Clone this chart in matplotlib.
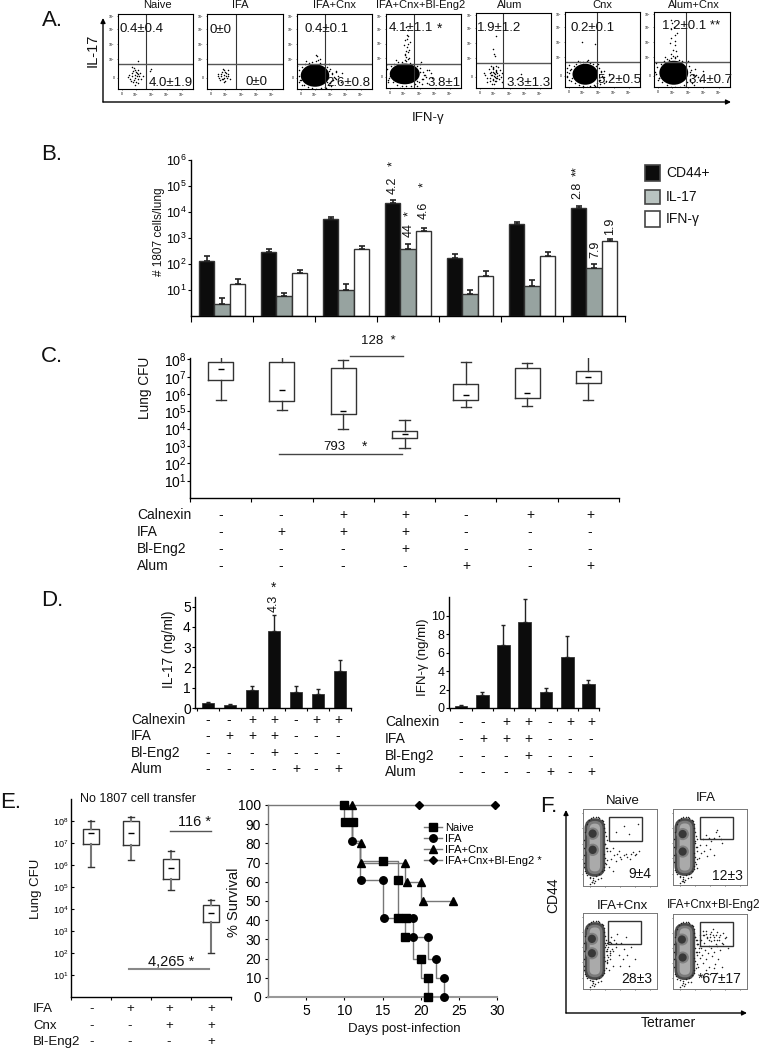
import matplotlib
matplotlib.use('Agg')
import matplotlib.pyplot as plt
from matplotlib.patches import Ellipse, Rectangle, FancyBboxPatch
from matplotlib.lines import Line2D

plt.rcParams['font.family'] = ['Liberation Sans', 'DejaVu Sans']
plt.rcParams['mathtext.fontset'] = 'custom'
plt.rcParams['mathtext.rm'] = 'Liberation Sans'

W, H = 764, 1050
fig = plt.figure(figsize=(W / 100, H / 100), dpi=100)
# overlay in picture pixels, holds the free text and the arrows
bg = fig.add_axes([0, 0, 1, 1])
bg.set_xlim(0, W)
bg.set_ylim(H, 0)
bg.axis('off')
bg.set_zorder(10)

# ---------- data ----------
# panel A, flow plots. dots are read off the picture as fractions of each box
a_names = ['Naive', 'IFA', 'IFA+Cnx', 'IFA+Cnx+Bl-Eng2', 'Alum', 'Cnx', 'Alum+Cnx']
a_boxes = [(118, 14, 193, 89), (207, 14, 283, 89), (297, 14, 372, 89), (386, 14, 461, 88),
           (476, 13, 551, 88), (565, 12, 640, 87), (654, 12, 730, 87)]
a_vline = [0.37, 0.375, 0.375, 0.375, 0.36, 0.425, 0.425]
a_hline = [0.33, 0.33, 0.33, 0.33, 0.34, 0.34, 0.34]
a_upper = ['0.4±0.4', '0±0', '0.4±0.1', '4.1±1.1', '1.9±1.2', '0.2±0.1', '1.2±0.1 **']
a_lower = ['4.0±1.9', '0±0', '2.6±0.8', '3.8±1', '3.3±1.3', '5.2±0.5', '3.4±0.7']
a_blob = [None, None, (0.24, 0.18, 0.38, 0.3), (0.25, 0.19, 0.4, 0.28), None,
          (0.27, 0.17, 0.34, 0.28), (0.26, 0.19, 0.38, 0.32)]
# scatter just outside a dense cloud, as multiples of the cloud's half size
halo_x = [-1.3, -1.15, -1.05, -0.9, -0.7, -0.45, -0.2, 0.1, 0.35, 0.6, 0.85, 1.05, 1.2, 1.3, 1.15, 0.95, 0.7, 0.4, 0.1, -0.2, -0.5, -0.8, -1.1, -1.4, 1.5, 1.45, 0.8, -0.6, -1.25, 1.0, 0.2, -0.3]
halo_y = [0.1, 0.5, -0.4, 0.75, 1.0, 1.15, 1.2, 1.25, 1.1, 1.0, 0.8, 0.55, 0.2, -0.15, -0.5, -0.8, -1.0, -1.15, -1.2, -1.15, -1.05, -0.8, -0.6, -0.2, 0.35, -0.3, -1.15, 1.3, 0.85, 1.0, 1.4, -1.35]
a_dots_x = [
    [.13, .16, .18, .2, .21, .22, .23, .24, .25, .26, .27, .28, .19, .17, .23, .21, .25, .27, .3, .15, .22, .24, .29, .26, .2, .42, .44, .27, .18, .33],
    [.14, .16, .18, .2, .21, .22, .23, .24, .25, .26, .27, .19, .17, .23, .21, .25, .28, .3, .15, .22, .24, .2, .27],
    [.02, .05, .46, .5, .44, .55, .48, .42, .6, .27, .25, .3, .52, .07, .58, .45, .4],
    [.25, .27, .28, .3, .26, .29, .31, .27, .24, .28, .3, .26, .32, .29, .27, .25, .31, .28, .45, .5, .52, .55, .58, .48, .62, .05, .03, .07, .6, .42, .47],
    [.1, .14, .17, .2, .22, .23, .24, .25, .26, .27, .28, .3, .32, .19, .18, .21, .23, .25, .27, .29, .24, .22, .26, .28, .2, .3, .33, .15, .12, .35, .55, .6, .27, .24, .35, .23, .25, .21, .24, .26, .28, .22, .25, .23, .27, .19, .2],
    [.02, .03, .03, .05, .06, .5, .54, .58, .48, .52, .62, .45, .22, .4, .46],
    [.02, .06, .2, .22, .25, .27, .28, .22, .3, .23, .26, .29, .24, .27, .21, .25, .48, .5, .55, .6, .64, .58, .52, .47, .28, .23],
]
a_dots_y = [
    [.16, .14, .21, .24, .12, .19, .25, .1, .22, .14, .2, .17, .17, .11, .15, .28, .18, .08, .13, .19, .06, .23, .21, .25, .09, .24, .27, .38, .3, .17],
    [.18, .15, .2, .23, .13, .19, .25, .11, .21, .15, .2, .17, .12, .15, .27, .18, .17, .14, .2, .1, .23, .14, .26],
    [.18, .12, .2, .15, .08, .18, .12, .24, .22, .44, .46, .4, .24, .05, .09, .04, .1],
    [.46, .5, .55, .6, .65, .7, .52, .42, .58, .72, .48, .44, .62, .78, .82, .38, .4, .66, .22, .12, .18, .07, .25, .05, .13, .16, .08, .23, .2, .1, .35],
    [.2, .13, .25, .18, .11, .28, .06, .15, .3, .22, .13, .18, .24, .2, .09, .05, .26, .19, .09, .28, .16, .12, .14, .2, .3, .12, .15, .08, .17, .2, .12, .19, .7, .46, .08, .52, .43, .17, .2, .23, .16, .22, .1, .27, .24, .14, .21],
    [.2, .13, .26, .09, .23, .14, .08, .17, .21, .05, .12, .1, .6, .58, .04],
    [.18, .12, .36, .44, .5, .56, .62, .66, .72, .78, .8, .48, .85, .4, .59, .42, .1, .05, .16, .08, .22, .14, .03, .2, .7, .9],
]

# panel B
b_cd44 = [130, 280, 5200, 22000, 165, 3400, 14700]
b_cd44_top = [209, 365, 6200, 29000, 235, 4000, 17000]
b_il17 = [2, 4.9, 8.6, 390, 5.9, 13, 70]
b_il17_top = [4, 7, 16, 570, 9, 23.5, 103]
b_ifn = [16, 45, 390, 1800, 33, 205, 750]
b_ifn_top = [26, 60, 500, 2500, 52, 280, 940]

# panel C boxes: whisker high, box top, median, box low, whisker low
c_hi = [1.5e8, 1.7e8, 8.7e7, 3.3e4, 7e7, 6.5e7, 1.7e8]
c_q3 = [7e7, 7e7, 3.2e7, 7e3, 3.6e6, 3.2e7, 2e7]
c_med = [2.8e7, 1.7e6, 1.05e5, 4.7e3, 8.3e5, 1.15e6, 1e7]
c_q1 = [6.8e6, 3.8e5, 6.8e4, 2.8e3, 4.3e5, 5.9e5, 4.3e6]
c_lo = [4.3e5, 1.2e5, 1e4, 7.6e2, 1.7e5, 2e5, 4.3e5]
calnexin = ['-', '-', '+', '+', '-', '+', '+']
ifa = ['-', '+', '+', '+', '-', '-', '-']
bl_eng2 = ['-', '-', '-', '+', '-', '-', '-']
alum = ['-', '-', '-', '-', '+', '-', '+']

# panel D
d_il17 = [0.25, 0.16, 0.89, 3.8, 0.77, 0.7, 1.84]
d_il17_top = [0.3, 0.2, 1.07, 4.6, 1.08, 0.93, 2.35]
d_ifn = [0.25, 1.4, 6.8, 9.3, 1.7, 5.5, 2.6]
d_ifn_top = [0.36, 1.77, 9, 11.8, 2.17, 7.76, 3.07]

# panel E boxes
e_hi = [1e8, 1.6e8, 4.5e6, 2.5e4]
e_q3 = [4.4e7, 1e8, 1.9e6, 1.6e4]
e_med = [3e7, 3e7, 7.6e5, 6.6e3]
e_q1 = [8.9e6, 8.3e6, 2.3e5, 2.6e3]
e_lo = [8e5, 1.7e6, 7.6e4, 1e2]
e_ifa = ['-', '+', '+', '+']
e_cnx = ['-', '-', '+', '+']
e_bl = ['-', '-', '-', '+']

# survival curves
naive_x = [10, 10, 11, 11, 12, 12, 15, 17, 17, 18, 18, 19, 19, 20, 20, 21, 21]
naive_y = [100, 91, 91, 81, 81, 71, 71, 71, 41, 41, 31, 31, 20, 20, 10, 10, 0]
naive_mx = [10, 10.1, 11.1, 15, 17, 17, 18.1, 18, 20, 21, 21]
naive_my = [100, 91, 91, 71, 61, 41, 41, 31, 20, 10, 0]
ifa_x = [11, 11, 12, 12, 15, 15, 19, 19, 21, 21, 22, 22, 23, 23]
ifa_y = [100, 81, 81, 61, 61, 41, 41, 31, 31, 20, 20, 10, 10, 0]
ifa_mx = [11, 12.2, 15, 15.2, 19, 19, 21, 22, 23, 23]
ifa_my = [81, 61, 61, 41, 41, 31, 31, 20, 10, 0]
cnx_x = [11, 11, 12, 12, 18, 18, 20, 20, 24]
cnx_y = [100, 80, 80, 70, 70, 60, 60, 50, 50]
cnx_mx = [11, 12.2, 12.2, 18, 18.2, 20.1, 20.3, 24.2]
cnx_my = [100, 80, 70, 70, 60, 60, 50, 50]
bl_x = [0, 30]
bl_y = [100, 100]
bl_mx = [19.8, 29.8]
bl_my = [100, 100]

# panel F
f_names = ['Naive', 'IFA', 'IFA+Cnx', 'IFA+Cnx+Bl-Eng2']
f_boxes = [(583, 809, 657, 886), (673, 809, 747, 885), (583, 913, 657, 989), (673, 914, 747, 989)]
f_gates = [(0.35, 0.59, 0.45, 0.31), (0.36, 0.6, 0.45, 0.3), (0.34, 0.59, 0.44, 0.31), (0.36, 0.58, 0.45, 0.32)]
f_values = ['9±4', '12±3', '28±3', '*67±17']
f_dark = [[(.13, .68), (.13, .47)], [(.13, .67), (.13, .44)], [(.12, .66), (.12, .47)], [(.12, .66), (.13, .42)]]
# dots hugging the main population, shared by the four plots
f_edge_x = [.29, .3, .31, .32, .3, .31, .33, .29, .3, .32, .31, .28, .29, .27, .25, .22, .2, .17, .14, .11, .08, .05, .03, .02, .01, .02, .01, .03, .04, .06, .1, .14, .18, .22, .26, .28, .16, .12, .2, .09, .15, .13, .24]
f_edge_y = [.75, .7, .65, .6, .55, .5, .45, .42, .37, .34, .28, .25, .8, .84, .86, .88, .89, .9, .89, .88, .86, .8, .7, .6, .5, .4, .3, .2, .17, .14, .12, .11, .13, .15, .19, .21, .07, .05, .09, .03, .04, .08, .1]
f_dots_x = [
    [.3, .33, .36, .4, .42, .46, .5, .55, .6, .65, .7, .75, .38, .44, .48, .52, .58, .64, .68, .72, .45, .55, .62, .74, .3, .35, .4, .1, .12, .02],
    [.3, .33, .36, .4, .44, .48, .52, .58, .62, .66, .6, .55, .42, .46, .5, .38, .35, .3, .55, .65, .45, .32, .1, .14],
    [.3, .32, .34, .36, .38, .4, .42, .45, .48, .52, .55, .6, .65, .7, .33, .37, .41, .44, .5, .58, .35, .39, .46, .54, .36, .62, .12, .02, .31, .33, .35, .37, .34, .38, .32, .36],
    [.3, .33, .36, .38, .4, .42, .44, .46, .48, .5, .52, .54, .56, .58, .6, .62, .64, .66, .68, .7, .72, .35, .39, .43, .47, .51, .55, .59, .63, .67, .37, .41, .45, .49, .53, .57, .61, .34, .44, .5, .56, .6, .66, .4, .74, .32, .34, .36, .38, .33, .35, .37, .4, .42, .44, .46, .48, .5, .52, .54, .56, .58, .6, .62],
]
f_dots_y = [
    [.55, .5, .45, .5, .4, .42, .38, .4, .38, .42, .4, .45, .35, .33, .45, .35, .42, .35, .44, .42, .7, .78, .68, .8, .3, .25, .2, .1, .05, .25],
    [.58, .5, .52, .6, .66, .62, .58, .7, .64, .55, .72, .62, .45, .38, .48, .42, .35, .3, .4, .6, .52, .22, .1, .05],
    [.6, .5, .55, .45, .6, .5, .65, .55, .45, .6, .52, .45, .55, .4, .35, .4, .3, .6, .3, .68, .25, .52, .72, .4, .62, .3, .1, .25, .58, .52, .62, .5, .42, .68, .38, .48],
    [.7, .6, .65, .55, .72, .62, .78, .68, .58, .74, .64, .8, .7, .6, .76, .66, .72, .62, .75, .68, .7, .5, .45, .52, .48, .55, .5, .58, .52, .6, .42, .35, .4, .3, .44, .34, .4, .3, .25, .2, .28, .22, .3, .18, .55, .66, .6, .72, .66, .5, .55, .58, .78, .72, .74, .7, .66, .7, .76, .72, .66, .72, .66, .7],
]


def pax(x0, y0, x1, y1):
    return fig.add_axes([x0 / W, 1 - y1 / H, (x1 - x0) / W, (y1 - y0) / H])


def txt(x, y, s, size=10, ha='center', rot=0, **kw):
    bg.text(x, y, s, fontsize=size, ha=ha, va='center', rotation=rot, color='#111111', **kw)


def arrow(x0, y0, x1, y1):
    bg.annotate('', xy=(x1, y1), xytext=(x0, y0),
                arrowprops=dict(arrowstyle='-|>', color='k', lw=1, mutation_scale=7, shrinkA=0, shrinkB=0))


def signs(labels, rows, xs, ys, label_x, size=10):
    for lab, row, y in zip(labels, rows, ys):
        txt(label_x, y, lab, size, ha='left')
        for s, x in zip(row, xs):
            txt(x, y, s, size)


def exp_labels(ax, exps, size):
    ax.set_yticks([10.0 ** e for e in exps])
    ax.set_yticklabels(['$\\mathregular{10^{%d}}$' % e for e in exps], fontsize=size)
    ax.minorticks_off()


def clean(ax, lw=1):
    ax.spines['top'].set_visible(False)
    ax.spines['right'].set_visible(False)
    ax.spines['left'].set_linewidth(lw)
    ax.spines['bottom'].set_linewidth(lw)
    ax.patch.set_alpha(0)


def boxes(ax, hi, q3, med, q1, lo, width, wcolor='#333333', wlw=1):
    stats = [dict(whishi=a, q3=b, med=c, q1=d, whislo=e, fliers=[]) for a, b, c, d, e in zip(hi, q3, med, q1, lo)]
    xs = [i + 0.5 for i in range(len(hi))]
    ax.bxp(stats, positions=xs, widths=width, showfliers=False, manage_ticks=False,
           boxprops=dict(color='#333333', lw=1), whiskerprops=dict(color=wcolor, lw=wlw),
           capprops=dict(color='#333333', lw=1), medianprops=dict(alpha=0), capwidths=width * 0.4)
    ax.plot(xs, med, ls='none', marker='_', color='k', ms=5, mew=1)


# ---------- A ----------
txt(52, 21, 'A.', 16)
for i, name in enumerate(a_names):
    x0, y0, x1, y1 = a_boxes[i]
    ax = pax(x0, y0, x1, y1)
    ax.set_xlim(0, 1)
    ax.set_ylim(0, 1)
    if a_blob[i]:
        cx, cy, w, h = a_blob[i]
        ax.add_patch(Ellipse((cx, cy), w, h, color='k', lw=0))
        ax.scatter([cx + d * w * 0.5 for d in halo_x], [cy + d * h * 0.5 for d in halo_y], s=1.2, color='k', lw=0)
    ax.scatter(a_dots_x[i], a_dots_y[i], s=1.2, color='k', lw=0)
    ax.axvline(a_vline[i], color='#333333', lw=0.8)
    ax.axhline(a_hline[i], color='#555555', lw=1)
    ax.set_xticks([0.05, 0.24, 0.45, 0.65, 0.85])
    ax.set_yticks([0.15, 0.4, 0.6, 0.8, 0.97])
    ax.set_xticklabels(['0', '$10^2$', '$10^3$', '$10^4$', '$10^5$'], fontsize=2.5)
    ax.set_yticklabels(['0', '$10^2$', '$10^3$', '$10^4$', '$10^5$'], fontsize=2.5)
    ax.tick_params(length=1, width=0.4, pad=1)
    for s in ax.spines.values():
        s.set_linewidth(0.8)
a_title_x = [157, 240, 334, 421, 510, 602, 694]
for name, x in zip(a_names, a_title_x):
    txt(x, 5, name, 8)
a_up_pos = [(142, 29), (221, 30), (327, 29), (411, 28), (499, 28), (593, 28), (691, 26)]
a_lo_pos = [(171, 83), (256, 82), (348, 83), (444, 83), (529, 83), (619, 80), (710, 80)]
for s, p in zip(a_upper, a_up_pos):
    txt(p[0], p[1], s, 9.5)
for s, p in zip(a_lower, a_lo_pos):
    txt(p[0], p[1], s, 9.5)
txt(440, 29, '*', 10)
arrow(103, 102, 103, 18)
arrow(103, 102, 731, 102)
txt(93, 50, 'IL-17', 10.5, rot=90)
txt(428, 118, 'IFN-γ', 9.5)

# ---------- B ----------
txt(52, 155, 'B.', 16)
ax = pax(191, 160, 625, 316)
ax.set_yscale('log')
ax.set_ylim(1, 1e6)
ax.set_xlim(0, 7)
for k, (vals, tops, col) in enumerate([(b_cd44, b_cd44_top, '#0c0c0c'), (b_il17, b_il17_top, '#97a3a0'), (b_ifn, b_ifn_top, 'white')]):
    xs = [i + 0.25 + 0.25 * k for i in range(7)]
    err = [[0] * 7, [t - v for t, v in zip(tops, vals)]]
    ax.bar(xs, vals, 0.25, bottom=1, color=col, edgecolor='#333333', lw=1,
           yerr=err, error_kw=dict(ecolor='#222222', elinewidth=1.2, capsize=2.2, capthick=1.2))
exp_labels(ax, [1, 2, 3, 4, 5, 6], 9)
ax.set_xticks(range(8))
ax.set_xticklabels([])
ax.tick_params(axis='x', length=4, width=0.8)
ax.tick_params(axis='y', length=2, width=0.8, pad=1)
clean(ax)
txt(159, 232, '# 1807 cells/lung', 8.5, rot=90)
for x, y, s in [(393, 185, '4.2'), (393, 164, '*'), (424, 210, '4.6'), (424, 185, '*'), (409, 230, '44'), (409, 214, '*'),
                (577, 190, '2.8'), (577, 171, '**'), (595, 249, '7.9'), (610, 226, '1.9')]:
    txt(x, y, s, 9, rot=90)
for y0, y1, col, lab in [(165, 181, '#0c0c0c', 'CD44+'), (190, 204, '#b9c3c0', 'IL-17'), (211, 227, 'white', 'IFN-γ')]:
    bg.add_patch(Rectangle((645, y0), 15, y1 - y0, fc=col, ec='#444444', lw=1.2))
    txt(666, (y0 + y1) / 2, lab, 10, ha='left')

# ---------- C ----------
txt(52, 357, 'C.', 16)
ax = pax(190, 358, 619, 498)
ax.set_yscale('log')
ax.set_ylim(1, 1.2e8)
ax.set_xlim(0, 7)
boxes(ax, c_hi, c_q3, c_med, c_q1, c_lo, 0.41)
exp_labels(ax, [1, 2, 3, 4, 5, 6, 7, 8], 10)
ax.set_xticks(range(8))
ax.set_xticklabels([])
ax.tick_params(axis='x', length=3, width=0.8)
ax.tick_params(axis='y', length=2, width=0.8, pad=0.5)
clean(ax)
txt(145, 388, 'Lung CFU', 9.8, rot=90)
bg.plot([350, 403], [356, 356], color='#444444', lw=1)
txt(378, 341, '128  *', 9.5)
bg.plot([279, 402], [454, 454], color='#444444', lw=1)
txt(334, 447, '793', 9.5)
txt(365, 447, '*', 10)
signs(['Calnexin', 'IFA', 'Bl-Eng2', 'Alum'], [calnexin, ifa, bl_eng2, alum],
      [221, 281, 343, 405, 466, 530, 590], [515, 532, 549, 566], 137, 10)

# ---------- D ----------
txt(52, 601, 'D.', 16)
ax = pax(195, 597, 351, 708)
ax.set_ylim(0, 111 / 20.3)
ax.set_xlim(-0.59, 6.5)
err = [[0] * 7, [t - v for t, v in zip(d_il17_top, d_il17)]]
ax.bar(range(7), d_il17, 0.55, color='#0c0c0c', edgecolor='#333333', lw=0.6,
       yerr=err, error_kw=dict(ecolor='#222222', elinewidth=1, capsize=1.5))
ax.set_yticks([0, 1, 2, 3, 4, 5])
ax.set_xticks([i + 0.5 for i in range(-1, 7)])
ax.set_xticklabels([])
ax.tick_params(axis='x', length=2, width=0.8)
ax.tick_params(axis='y', length=2, width=0.8, pad=1, labelsize=10)
clean(ax)
txt(169, 649, 'IL-17 (ng/ml)', 9.8, rot=90)
txt(274, 603, '4.3', 9, rot=90)
txt(274, 588, '*', 10)
signs(['Calnexin', 'IFA', 'Bl-Eng2', 'Alum'], [calnexin, ifa, bl_eng2, alum],
      [208, 229, 252, 274, 296, 316, 338], [720, 736, 753, 769], 131)

ax = pax(449, 597, 599, 708)
ax.set_ylim(0, 111 / 9.233)
ax.set_xlim(-0.56, 6.5)
err = [[0] * 7, [t - v for t, v in zip(d_ifn_top, d_ifn)]]
ax.bar(range(7), d_ifn, 0.6, color='#0c0c0c', edgecolor='#333333', lw=0.6,
       yerr=err, error_kw=dict(ecolor='#222222', elinewidth=1, capsize=1.5))
ax.set_yticks([0, 2, 4, 6, 8, 10])
ax.set_xticks([i + 0.5 for i in range(-1, 7)])
ax.set_xticklabels([])
ax.tick_params(axis='x', length=2, width=0.8)
ax.tick_params(axis='y', length=2, width=0.8, pad=1, labelsize=9)
clean(ax)
txt(423, 657, 'IFN-γ (ng/ml)', 9.5, rot=90)
signs(['Calnexin', 'IFA', 'Bl-Eng2', 'Alum'], [calnexin, ifa, bl_eng2, alum],
      [461, 483, 506, 528, 550, 570, 591], [722, 739, 756, 772], 385)

# ---------- E ----------
txt(0, 803, 'E.', 16, ha='left')
ax = pax(71, 799, 231, 997)
ax.set_yscale('log')
ax.set_ylim(1, 1e9)
ax.set_xlim(0, 4)
boxes(ax, e_hi, e_q3, e_med, e_q1, e_lo, 0.41, wcolor='#777777', wlw=1.5)
exp_labels(ax, [1, 2, 3, 4, 5, 6, 7, 8], 6.5)
ax.set_xticks(range(5))
ax.set_xticklabels([])
ax.tick_params(axis='x', length=2, width=0.8)
ax.tick_params(axis='y', length=2, width=0.8, pad=2, direction='in')
clean(ax)
txt(36, 889, 'Lung CFU', 9.5, rot=90)
txt(80, 799, 'No 1807 cell transfer', 9, ha='left')
txt(195, 822, '116 *', 10.5)
bg.plot([170, 211], [831, 831], color='#555555', lw=1)
txt(171, 962, '4,265 *', 10.5)
bg.plot([129, 209], [969, 969], color='#888888', lw=1.5)
signs(['IFA', 'Cnx', 'Bl-Eng2'], [e_ifa, e_cnx, e_bl], [92, 130, 169, 211], [1009, 1026, 1042], 33, 9.5)

ax = pax(268, 805, 497, 997)
ax.set_xlim(0, 30)
ax.set_ylim(0, 100)
ms = 5.4
series = [(naive_x, naive_y, naive_mx, naive_my, 's', 'Naive', ms),
          (ifa_x, ifa_y, ifa_mx, ifa_my, 'o', 'IFA', ms),
          (cnx_x, cnx_y, cnx_mx, cnx_my, '^', 'IFA+Cnx', ms),
          (bl_x, bl_y, bl_mx, bl_my, 'D', 'IFA+Cnx+Bl-Eng2 *', ms - 1.6)]
handles = []
for sx, sy, mx, my, mk, lab, size in series:
    ax.plot(sx, sy, color='#777777', lw=1, clip_on=False)
    ax.plot(mx, my, ls='none', marker=mk, color='k', ms=size, clip_on=False, zorder=4)
    handles.append(Line2D([], [], color='#777777', lw=1, marker=mk, mfc='k', mec='k', ms=size, label=lab))
ax.set_xticks([5, 10, 15, 20, 25, 30])
ax.set_yticks(range(0, 101, 10))
ax.tick_params(axis='both', length=2, width=0.8, labelsize=10, pad=3)
clean(ax)
ax.spines['bottom'].set_color('#999999')
ax.spines['bottom'].set_linewidth(1.5)
ax.spines['left'].set_color('#777777')
txt(404, 1029, 'Days post-infection', 9.5)
txt(234, 902, '% Survival', 10.5, rot=90)
leg = ax.legend(handles=handles, loc='upper left', bbox_to_anchor=((424 - 268) / 229, 1 - (823 - 805) / 192),
                frameon=False, fontsize=8, labelspacing=0.1, handlelength=1.6, handletextpad=0.3, borderpad=0, borderaxespad=0)

# ---------- F ----------
txt(540, 807, 'F.', 16, ha='left')
arrow(566, 1013, 566, 810)
arrow(566, 1013, 747, 1013)
txt(553, 895, 'CD44', 10, rot=90)
txt(668, 1023, 'Tetramer', 10)
f_title_pos = [(623, 801), (706, 798), (622, 906), (714, 905)]
f_val_pos = [(640, 874), (727, 876), (637, 979), (720, 979)]
for i, name in enumerate(f_names):
    ax = pax(*f_boxes[i])
    ax.set_xlim(0, 1)
    ax.set_ylim(0, 1)
    for inset, col in [(0, '#4a4a4a'), (0.035, '#7a7a7a'), (0.07, '#aaaaaa')]:
        ax.add_patch(FancyBboxPatch((0.02 + inset, 0.12 + inset), 0.28 - 2 * inset, 0.76 - 2 * inset,
                                    boxstyle='round,pad=0,rounding_size=%.3f' % (0.135 - inset), color=col, lw=0))
    for cx, cy in f_dark[i]:
        ax.add_patch(Ellipse((cx, cy), 0.17, 0.16, color='#808080', lw=0))
        ax.add_patch(Ellipse((cx, cy), 0.11, 0.11, color='#383838', lw=0))
    ax.scatter(f_edge_x, f_edge_y, s=1.2, color='#222222', lw=0)
    ax.scatter(f_dots_x[i], f_dots_y[i], s=1.2, color='#222222', lw=0)
    gx, gy, gw, gh = f_gates[i]
    ax.add_patch(Rectangle((gx, gy), gw, gh, fc='none', ec='#333333', lw=1))
    ax.set_xticks([0.1, 0.3, 0.5, 0.7, 0.9])
    ax.set_yticks([0.15, 0.35, 0.55, 0.75, 0.95])
    ax.set_xticklabels([])
    ax.set_yticklabels([])
    ax.tick_params(length=1, width=0.4)
    for s in ax.spines.values():
        s.set_linewidth(0.7)
        s.set_color('#777777')
    txt(f_title_pos[i][0], f_title_pos[i][1], name, 8.4 if i == 3 else 9.5)
    txt(f_val_pos[i][0], f_val_pos[i][1], f_values[i], 10)

fig.savefig('out.png', dpi=100)
